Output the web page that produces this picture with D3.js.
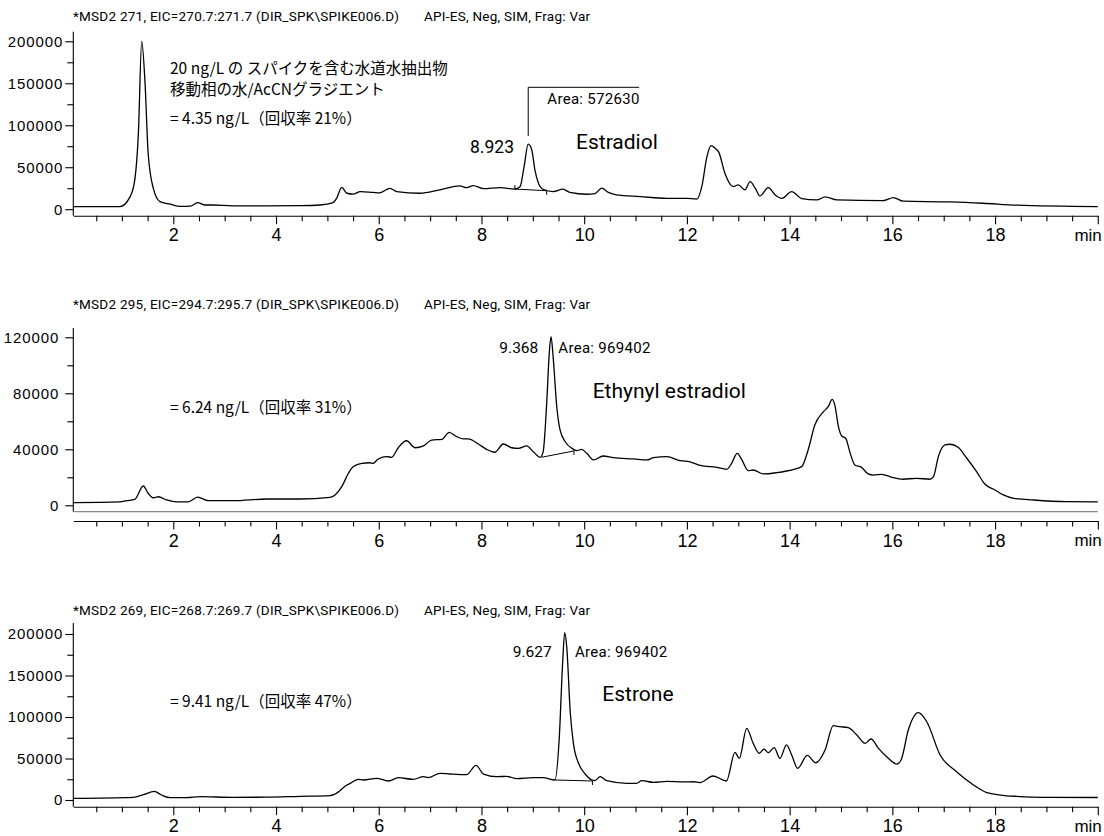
<!DOCTYPE html>
<html lang="ja">
<head>
<meta charset="UTF-8">
<title>EIC chromatograms</title>
<style>
  body { margin: 0; background: #fff; }
  svg { display: block; font-family: Roboto, "Liberation Sans", sans-serif; }
  .trace { fill: none; stroke: #000; stroke-width: 1.3; stroke-linejoin: round; }
  .axis path, .axis line { fill: none; stroke: #000; stroke-width: 1.1; }
  .axis text { fill: #000; }
  .axis--y text { font-size: 15px; letter-spacing: 0.9px; }
  .axis--x text { font-size: 18px; }
  .header { font-size: 13.5px; letter-spacing: 0.25px; }
  .jp { font-family: "Noto Sans CJK JP", sans-serif; font-size: 15.5px; }
  .area { font-size: 15px; letter-spacing: 0.3px; }
  .name { font-size: 21px; }
  .mark { fill: none; stroke: #000; stroke-width: 1; }
</style>
</head>
<body>
<svg id="chart" width="1104" height="836"></svg>
<script src="https://d3js.org/d3.v7.min.js"></script>
<script>
// ---- data: [time (min), abundance] ----
const estradiolTrace = [
  [0.05, 3100], [0.96, 3100], [1.16, 15000], [1.25, 35000], [1.32, 90000], [1.385, 200000],
  [1.45, 150000], [1.51, 67000], [1.61, 25000], [1.74, 9000], [1.94, 6000], [2.13, 3300],
  [2.33, 3600], [2.475, 7800], [2.62, 5000], [2.77, 5000], [3.16, 4000], [3.83, 4000],
  [4.47, 4200], [4.86, 5000], [5.11, 7800], [5.18, 13000], [5.28, 26000], [5.38, 19000],
  [5.50, 18000], [5.64, 21000], [5.89, 20000], [6.02, 19500], [6.22, 24900], [6.35, 21000],
  [6.80, 19000], [7.19, 23000], [7.58, 27700], [7.71, 25700], [7.84, 28100], [8.04, 24500],
  [8.36, 25700], [8.65, 24000], [8.75, 26600], [8.83, 50700], [8.91, 77400], [8.98, 70600],
  [9.04, 46800], [9.11, 31000], [9.20, 23800], [9.40, 21000], [9.59, 23800], [9.72, 20000],
  [10.05, 17800], [10.21, 18500], [10.34, 25000], [10.47, 20000], [10.63, 17000], [11.09, 15000],
  [11.61, 13000], [12.00, 13000], [12.19, 12000], [12.29, 26900], [12.39, 62600], [12.47, 75700],
  [12.55, 72600], [12.62, 68000], [12.74, 42800], [12.90, 26900], [13.00, 28900], [13.13, 23000],
  [13.23, 32800], [13.33, 25000], [13.42, 15800], [13.585, 25700], [13.72, 17000], [13.85, 13000],
  [14.04, 21000], [14.235, 12600], [14.53, 11000], [14.69, 14600], [14.92, 11000], [15.82, 10200],
  [16.02, 13800], [16.21, 9500], [17.12, 8700], [17.77, 7100], [18.42, 4800], [20.0, 3100]
];
const ethynylTrace = [
  [0.05, 1900], [0.96, 2400], [1.09, 3300], [1.25, 4300], [1.416, 13800], [1.51, 8600],
  [1.61, 5400], [1.71, 6100], [1.87, 3800], [2.07, 2400], [2.29, 2500], [2.475, 5900],
  [2.68, 3300], [3.17, 3300], [3.82, 4500], [4.47, 4500], [5.05, 5700], [5.15, 7400],
  [5.28, 13300], [5.41, 22900], [5.50, 27600], [5.67, 30000], [5.83, 30400], [5.89, 30000],
  [5.99, 33100], [6.155, 34700], [6.25, 34300], [6.38, 41100], [6.54, 46100], [6.71, 41100],
  [6.87, 42400], [7.03, 46600], [7.23, 47100], [7.37, 52100], [7.52, 49000], [7.65, 47400],
  [7.74, 47500], [7.94, 43800], [8.10, 40000], [8.26, 37900], [8.425, 43800], [8.59, 41100],
  [8.72, 40700], [8.88, 42400], [9.01, 38300], [9.14, 34300], [9.20, 38000], [9.27, 72900],
  [9.32, 108600], [9.354, 120400], [9.40, 103800], [9.466, 70400], [9.53, 53800], [9.63, 45400],
  [9.76, 40700], [9.855, 39000], [9.95, 40000], [10.05, 37100], [10.18, 32400], [10.37, 35200],
  [10.57, 34000], [10.96, 33100], [11.22, 32400], [11.35, 34000], [11.61, 34700], [11.87, 31900],
  [12.06, 31100], [12.26, 28500], [12.58, 27100], [12.775, 25700], [12.87, 30000], [12.98, 37100],
  [13.07, 32400], [13.195, 24800], [13.29, 25200], [13.49, 22400], [13.75, 23300], [13.94, 24500],
  [14.10, 25900], [14.235, 27600], [14.36, 39500], [14.49, 57400], [14.66, 66900], [14.75, 70400],
  [14.83, 75700], [14.88, 71600], [14.95, 56200], [15.015, 49500], [15.09, 47900], [15.18, 37100],
  [15.27, 28800], [15.40, 27100], [15.53, 22400], [15.63, 21600], [15.79, 22100], [15.99, 20000],
  [16.21, 18600], [16.47, 19300], [16.73, 18600], [16.80, 20400], [16.895, 34700], [17.025, 43100],
  [17.12, 43600], [17.28, 41400], [17.45, 33600], [17.64, 24000], [17.80, 15200], [18.00, 10900],
  [18.16, 7400], [18.36, 5000], [18.75, 3800], [19.40, 2600], [20.0, 2400]
];
const estroneTrace = [
  [0.05, 2000], [1.22, 3200], [1.416, 6400], [1.63, 10400], [1.77, 6000], [1.94, 2800],
  [2.26, 2800], [2.52, 4000], [3.16, 3200], [3.82, 3400], [4.47, 4400], [5.05, 5200],
  [5.15, 7200], [5.38, 18000], [5.47, 20900], [5.60, 24900], [5.70, 24100], [5.96, 26100],
  [6.19, 22900], [6.38, 26900], [6.67, 24900], [6.87, 28100], [6.965, 27000], [7.19, 32100],
  [7.39, 31300], [7.71, 30500], [7.894, 41800], [8.04, 31300], [8.30, 28100], [8.49, 28500],
  [8.69, 25700], [9.01, 26900], [9.20, 26900], [9.43, 24100], [9.516, 76300], [9.58, 164700],
  [9.621, 201600], [9.66, 184700], [9.73, 104500], [9.79, 68300], [9.89, 44200], [10.02, 31300],
  [10.15, 24100], [10.21, 23500], [10.31, 28100], [10.44, 23300], [10.83, 20100], [11.02, 20100],
  [11.12, 23300], [11.35, 21300], [11.61, 22500], [11.93, 21800], [12.125, 22000], [12.255, 20900],
  [12.51, 28900], [12.77, 22900], [12.936, 57400], [13.02, 50200], [13.164, 86400], [13.29, 68300],
  [13.41, 56300], [13.50, 61400], [13.585, 57000], [13.70, 63000], [13.81, 50200], [13.94, 66300],
  [14.04, 54200], [14.157, 38200], [14.344, 53800], [14.51, 44900], [14.69, 60200], [14.85, 89500],
  [14.98, 88300], [15.14, 87100], [15.31, 78300], [15.47, 68300], [15.585, 73500], [15.73, 62200],
  [15.89, 52200], [16.085, 43300], [16.17, 48200], [16.31, 84300], [16.506, 105200], [16.67, 94300],
  [16.93, 54200], [17.25, 34100], [17.58, 18100], [17.84, 8800], [18.10, 6000], [18.42, 4400],
  [19.07, 3200], [20.0, 3000]
];

// integration baselines drawn under the labelled peaks
const estradiolBaseline = [[8.65, 24000], [9.27, 22000]];
const ethynylBaseline = [[9.17, 34300], [9.80, 38800]];
const estroneBaseline = [[9.43, 24100], [10.16, 22900]];
// area bracket over the estradiol peak: [time, abundance] corner points
const estradiolBracket = [[8.91, 87200], [8.91, 145200], [11.07, 145200]];

// ---- tick values and labels ----
const timeMajor = [2, 4, 6, 8, 10, 12, 14, 16, 18, 20];
const timeMinor = d3.range(0.5, 20, 0.5).filter(d => d % 2 !== 0);
const abundMajor200k = [0, 50000, 100000, 150000, 200000];
const abundMinor200k = [25000, 75000, 125000, 175000];
const abundMajor120k = [0, 40000, 80000, 120000];
const abundMinor120k = [20000, 60000, 100000];

// ---- text ----
const headers = [
  "*MSD2 271, EIC=270.7:271.7 (DIR_SPK\\SPIKE006.D)",
  "*MSD2 295, EIC=294.7:295.7 (DIR_SPK\\SPIKE006.D)",
  "*MSD2 269, EIC=268.7:269.7 (DIR_SPK\\SPIKE006.D)"
];
const modeText = "API-ES, Neg, SIM, Frag: Var";
const sampleNotes = ["20 ng/L の スパイクを含む水道水抽出物", "移動相の水/AcCNグラジエント"];
const results = ["= 4.35 ng/L（回収率 21%）", "= 6.24 ng/L（回収率 31%）", "= 9.41 ng/L（回収率 47%）"];
const compounds = ["Estradiol", "Ethynyl estradiol", "Estrone"];
const retentionTimes = ["8.923", "9.368", "9.627"];
const areas = ["572630", "969402", "969402"];

// ---- layout ----
const svg = d3.select("#chart");

const x = d3.scaleLinear()
    .domain([0.053, 20])
    .range([73.3, 1097.8]);

const panels = [
  { trace: estradiolTrace, baseline: estradiolBaseline, max: 200000, yRange: [209.2, 41.3],
    major: abundMajor200k, minor: abundMinor200k, axisTop: 31.7, axisY: 215.7, yEnd: 215.7,
    headerY: 20.7, labelPad: 2, resultY: 124,
    rt: { x: 514, y: 153.3, size: 17.5 }, area: { x: 547.3, y: 104 }, name: { x: 576, y: 149.3 } },
  { trace: ethynylTrace, baseline: ethynylBaseline, max: 120000, yRange: [505.3, 337.3],
    major: abundMajor120k, minor: abundMinor120k, axisTop: 328, axisY: 521, yEnd: 511.7, gray: 511.7,
    headerY: 309.3, labelPad: 6, resultY: 413.3,
    rt: { x: 538.3, y: 353.3, size: 15.5 }, area: { x: 558.3, y: 353.3 }, name: { x: 592.7, y: 398.3 } },
  { trace: estroneTrace, baseline: estroneBaseline, max: 200000, yRange: [800, 634],
    major: abundMajor200k, minor: abundMinor200k, axisTop: 623, axisY: 806.7, yEnd: 806.7,
    headerY: 615, labelPad: 2, resultY: 706.7,
    rt: { x: 551.7, y: 657.3, size: 15.5 }, area: { x: 575, y: 657.3 }, name: { x: 602.3, y: 700.7 } }
];

panels.forEach((p, i) => {
  const y = d3.scaleLinear().domain([0, p.max]).range(p.yRange);
  const g = svg.append("g");

  // header
  g.append("text").attr("class", "header").attr("x", 73).attr("y", p.headerY).text(headers[i]);
  g.append("text").attr("class", "header").attr("x", 424).attr("y", p.headerY).text(modeText);

  // y axis
  g.append("line")
      .attr("x1", x.range()[0]).attr("x2", x.range()[0])
      .attr("y1", p.axisTop).attr("y2", p.yEnd)
      .attr("stroke", "#000").attr("stroke-width", 1.1);

  g.append("g")
      .attr("class", "axis axis--y")
      .attr("transform", `translate(${x.range()[0]},0)`)
      .call(d3.axisLeft(y).tickValues(p.minor).tickSize(6).tickFormat(""))
      .call(a => a.select(".domain").remove());

  g.append("g")
      .attr("class", "axis axis--y")
      .attr("transform", `translate(${x.range()[0]},0)`)
      .call(d3.axisLeft(y).tickValues(p.major).tickSize(8).tickPadding(p.labelPad).tickFormat(d3.format("d")))
      .call(a => a.select(".domain").remove());

  // grey line above the time axis of the middle panel
  if (p.gray) {
    g.append("line")
        .attr("x1", x.range()[0]).attr("x2", x.range()[1])
        .attr("y1", p.gray).attr("y2", p.gray)
        .attr("stroke", "#8a8a8a").attr("stroke-width", 1.2);
  }

  // x axis
  g.append("g")
      .attr("class", "axis axis--x")
      .attr("transform", `translate(0,${p.axisY})`)
      .call(d3.axisBottom(x).tickValues(timeMinor).tickSize(5.5).tickSizeOuter(0).tickFormat(""));

  const xa = g.append("g")
      .attr("class", "axis axis--x")
      .attr("transform", `translate(0,${p.axisY})`)
      .call(d3.axisBottom(x).tickValues(timeMajor).tickSize(8.5).tickSizeOuter(0).tickPadding(4.5)
          .tickFormat(d => d === 20 ? "min" : d));
  xa.select(".domain").remove();
  xa.selectAll(".tick text").filter(d => d === 20)
      .attr("text-anchor", "end").attr("x", 3.5).style("font-size", "17px");

  // trace
  const line = d3.line()
      .x(d => x(d[0]))
      .y(d => y(d[1]))
      .curve(d3.curveMonotoneX);

  g.append("path").datum(p.trace).attr("class", "trace").attr("d", line);

  // integration baseline with end tick
  g.append("path").datum(p.baseline).attr("class", "mark")
      .attr("d", d3.line().x(d => x(d[0])).y(d => y(d[1])));
  const b1 = p.baseline[1];
  g.append("line").attr("class", "mark")
      .attr("x1", x(b1[0])).attr("x2", x(b1[0]))
      .attr("y1", y(b1[1])).attr("y2", y(b1[1]) + 4);
  if (i === 0) {
    const b0 = p.baseline[0];
    g.append("line").attr("class", "mark")
        .attr("x1", x(b0[0])).attr("x2", x(b0[0]))
        .attr("y1", y(b0[1]) - 4).attr("y2", y(b0[1]));
    g.append("path").datum(estradiolBracket).attr("class", "mark")
        .attr("d", d3.line().x(d => x(d[0])).y(d => y(d[1])));
  }

  // annotations
  g.append("text").attr("x", p.rt.x).attr("y", p.rt.y)
      .attr("text-anchor", "end").style("font-size", p.rt.size + "px").text(retentionTimes[i]);
  g.append("text").attr("class", "area").attr("x", p.area.x).attr("y", p.area.y).text("Area: " + areas[i]);
  g.append("text").attr("class", "name").attr("x", p.name.x).attr("y", p.name.y).text(compounds[i]);
  g.append("text").attr("class", "jp").attr("x", 170).attr("y", p.resultY).text(results[i]);
});

// sample description in the top panel
svg.selectAll(".note")
    .data(sampleNotes)
    .enter().append("text")
    .attr("class", "jp note")
    .attr("x", 170)
    .attr("y", (d, i) => [73.5, 94.5][i])
    .text(d => d);
</script>
</body>
</html>
